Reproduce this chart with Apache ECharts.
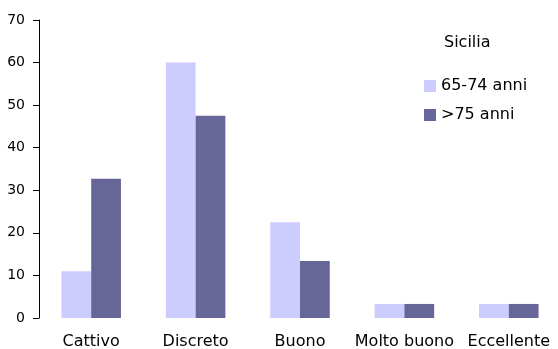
<!DOCTYPE html>
<html>
<head>
<meta charset="utf-8">
<script src="https://cdn.jsdelivr.net/npm/echarts@6/dist/echarts.min.js"></script>
<style>
  html, body { margin: 0; padding: 0; background: #fff; }
  #chart { width: 558px; height: 349px; }
</style>
</head>
<body>
<div id="chart"></div>
<script>
// dati
var categorie = ["Cattivo", "Discreto", "Buono", "Molto buono", "Eccellente"];
var anni65_74 = [11, 60, 22.5, 3.3, 3.3];
var anni75 = [32.7, 47.5, 13.4, 3.3, 3.3];
var nomiSerie = ["65-74 anni", ">75 anni"];
var titoloLegenda = "Sicilia";

var myChart = echarts.init(document.getElementById("chart"));
var font = "DejaVu Sans, Verdana, sans-serif";
var option = {
  animation: false,
  color: ["#CCCCFF", "#666699"],
  title: {
    text: titoloLegenda,
    left: 439,
    top: 30,
    textStyle: { fontSize: 16, fontWeight: "normal", color: "#000", fontFamily: font },
  },
  legend: {
    orient: "vertical",
    left: 419,
    top: 73,
    itemWidth: 12,
    itemHeight: 12,
    itemGap: 13,
    icon: "rect",
    data: nomiSerie,
    textStyle: { fontSize: 16, lineHeight: 16, color: "#000", fontFamily: font },
  },
  grid: {
    left: 39,
    right: -3,
    top: 20,
    bottom: 31,
    containLabel: false,
    outerBoundsMode: "none",
  },
  xAxis: {
    type: "category",
    data: categorie,
    axisLine: { show: false },
    axisTick: { show: false },
    axisLabel: {
      margin: 16,
      fontSize: 16,
      color: "#000",
      fontFamily: font,
      interval: 0,
    },
  },
  yAxis: {
    type: "value",
    min: 0,
    max: 70,
    interval: 10,
    splitLine: { show: false },
    axisLine: { show: true, lineStyle: { color: "#000", width: 1 } },
    axisTick: { show: true, length: 6, lineStyle: { color: "#000" } },
    axisLabel: { margin: 14, fontSize: 14, color: "#000", fontFamily: font },
  },
  series: [
    {
      name: nomiSerie[0],
      type: "bar",
      data: anni65_74,
      barGap: "0%",
      barCategoryGap: "43%",
    },
    {
      name: nomiSerie[1],
      type: "bar",
      data: anni75,
      barGap: "0%",
      barCategoryGap: "43%",
    },
  ],
};
myChart.setOption(option);
</script>
</body>
</html>
